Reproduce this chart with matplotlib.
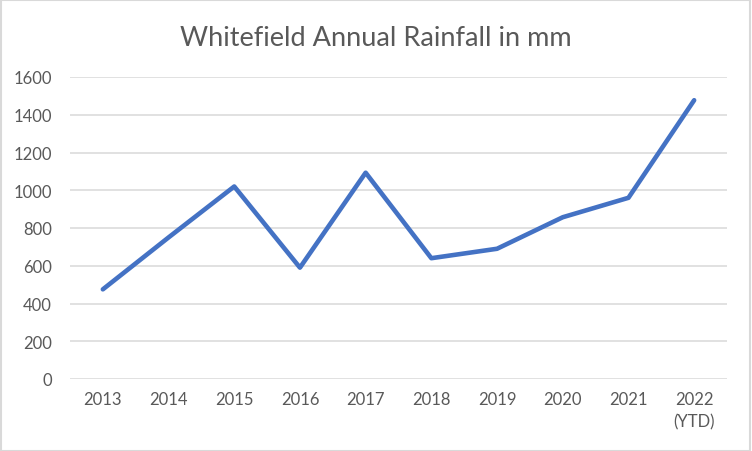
import matplotlib
matplotlib.use('Agg')
import matplotlib.pyplot as plt
from matplotlib.patches import Rectangle

# Whitefield annual rainfall (mm)
years = ['2013', '2014', '2015', '2016', '2017', '2018', '2019', '2020', '2021', '2022\n(YTD)']
rainfall = [475, 750, 1020, 590, 1093, 640, 690, 857, 960, 1477]
yticks = [0, 200, 400, 600, 800, 1000, 1200, 1400, 1600]

plt.rcParams['font.family'] = ['Lato', 'DejaVu Sans']
textColor = '#595959'
gridColor = '#D9D9D9'

fig = plt.figure(figsize=(7.52, 4.52), dpi=100)
ax = fig.add_axes([70/752, 1-380/452, 657/752, 302/452])

x = list(range(len(years)))
ax.plot(x, rainfall, color='#4472C4', lw=3.3, solid_joinstyle='round', solid_capstyle='round', zorder=3)

ax.set_xlim(-0.5, len(years)-0.5)
ax.set_ylim(0, 1600)
ax.set_yticks(yticks)
ax.set_xticks(x)
ax.set_xticklabels(years, linespacing=1.45)
ax.yaxis.grid(True, color=gridColor, lw=1.1)
ax.set_axisbelow(True)
for sp in ax.spines.values():
    sp.set_visible(False)
ax.tick_params(axis='both', length=0, labelsize=12, colors=textColor)
ax.tick_params(axis='y', pad=13)
ax.tick_params(axis='x', pad=9)

fig.text(0.5, 1-38/452, 'Whitefield Annual Rainfall in mm', ha='center', va='center',
         fontsize=19.5, color=textColor)

# light outer frame like the original chart area
fig.patches.append(Rectangle((0.001, 0.001), 0.997, 0.996, transform=fig.transFigure,
                             fill=False, edgecolor=gridColor, lw=1.5))

fig.savefig('out.png', dpi=100)
